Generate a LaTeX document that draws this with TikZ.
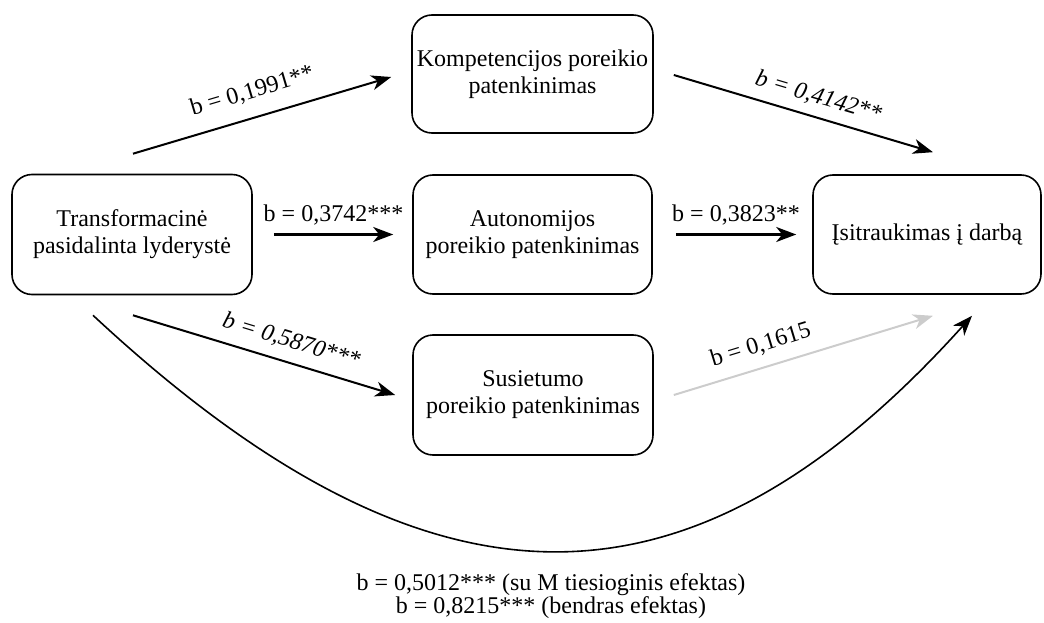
\documentclass[tikz,border=0pt]{standalone}
\usepackage{fontspec}
\setmainfont{Liberation Serif}
\usetikzlibrary{arrows.meta}
\definecolor{faint}{RGB}{204,204,204}
\begin{document}
\begin{tikzpicture}[x=1pt,y=-1pt,
  box/.style={draw, line width=1.6pt, rounded corners=20pt, align=center,
    inner sep=0pt, font=\fontsize{24}{27}\selectfont},
  link/.style={line width=2pt, -{Stealth[length=20pt,width=15pt,inset=6pt]}},
  coef/.style={font=\fontsize{24}{27}\selectfont, inner sep=0pt},
]
\useasboundingbox (0,0) rectangle (1044,623);

% constructs
\node[box, minimum width=240pt, minimum height=120pt] (lead) at (132,234.5)
  {Transformacinė\\pasidalinta lyderystė};
\node[box, minimum width=241pt, minimum height=118pt] (komp) at (532.5,74)
  {Kompetencijos poreikio\\patenkinimas};
\node[box, minimum width=239pt, minimum height=119pt] (auto) at (532.5,234.5)
  {Autonomijos\\poreikio patenkinimas};
\node[box, minimum width=240pt, minimum height=120pt] (sus) at (533,395)
  {Susietumo\\poreikio patenkinimas};
\node[box, minimum width=228pt, minimum height=119pt] (out) at (927,234.5)
  {Įsitraukimas į darbą};

% paths through the mediators
\draw[link] ([xshift=1pt,yshift=20pt]lead.north) -- ([xshift=-20pt,yshift=-3pt]komp.west)
  node[coef, pos=0.49, sloped, above=14.5pt] (c1) {b = 0,1991**};
\draw[link] ([xshift=20pt,yshift=-1pt]komp.east) -- ([xshift=6pt,yshift=22pt]out.north)
  node[coef, pos=0.535, sloped, above=9pt] (c2) {\itshape b = 0,4142**};
\draw[link, line width=2.3pt] ([xshift=21pt]lead.east) -- ([xshift=-19pt]auto.west)
  node[coef, pos=0.5, above=8.6pt] (c3) {b = 0,3742***};
\draw[link, line width=2.3pt] ([xshift=23pt]auto.east) -- ([xshift=-16pt]out.west)
  node[coef, pos=0.5, above=8.6pt] (c4) {b = 0,3823**};
\draw[link] ([xshift=1pt,yshift=-20pt]lead.south) -- ([xshift=-17pt]sus.west)
  node[coef, pos=0.58, sloped, above=10pt] (c5) {\itshape b = 0,5870***};
\draw[link, draw=faint, color=faint] ([xshift=20pt]sus.east) -- ([xshift=6pt,yshift=-21pt]out.south)
  node[coef, pos=0.36, sloped, above=11pt, text=black] (c6) {b = 0,1615};

% direct path
\draw[line width=1.6pt, -{Stealth[length=20pt,width=15pt,inset=6pt]}]
  ([xshift=-39pt,yshift=-20pt]lead.south) .. controls (430,629) and (690,629) ..
  ([xshift=45pt,yshift=-21pt]out.south);

\node[coef, align=center, font=\fontsize{24}{23}\selectfont] (total) at (551,596)
  {b = 0,5012*** (su M tiesioginis efektas)\\b = 0,8215*** (bendras efektas)};
\end{tikzpicture}
\end{document}
